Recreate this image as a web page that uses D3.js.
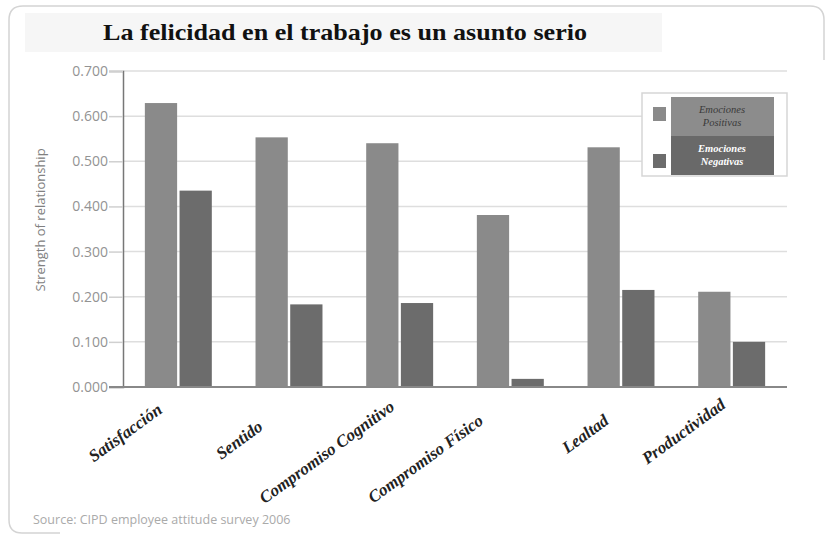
<!DOCTYPE html>
<head>
<meta charset="utf-8">
<title>La felicidad en el trabajo</title>
<script src="https://cdn.jsdelivr.net/npm/d3@7"></script>
<style>
body { margin: 0; background: #fff; }
</style>
</head>
<body>
<script>
// data
var categories = ["Satisfacción", "Sentido", "Compromiso Cognitivo", "Compromiso Físico", "Lealtad", "Productividad"];
var series = ["Emociones Positivas", "Emociones Negativas"];
var positivas = [0.629, 0.553, 0.540, 0.381, 0.531, 0.211];
var negativas = [0.435, 0.183, 0.186, 0.018, 0.215, 0.100];
var yTicks = [0, 0.1, 0.2, 0.3, 0.4, 0.5, 0.6, 0.7];
// hand-placed label nudges in the original
var labelShift = [-15, -25, -4, -26, -11, -5];
var labelDrop = [25, 42, 22, 36, 36, 20];

var width = 827, height = 537;
var colors = ["#8a8a8a", "#6c6c6c"];

var svg = d3.select("body").append("svg")
  .attr("width", width)
  .attr("height", height);

// outer frame (right and bottom edges fade out)
svg.append("path")
  .attr("d", "M60,533 H22 Q9,533 9,520 V20 Q9,6 23,6 H810 Q824,6 824,20 V60")
  .attr("fill", "none")
  .attr("stroke", "#d4d4d4")
  .attr("stroke-width", 1.5);

// title
svg.append("rect")
  .attr("x", 25).attr("y", 13).attr("width", 637).attr("height", 39)
  .attr("fill", "#f6f6f6");
svg.append("text")
  .attr("x", 345).attr("y", 40)
  .attr("text-anchor", "middle")
  .attr("font-family", "Liberation Serif, serif")
  .attr("font-weight", "bold")
  .attr("font-size", 24)
  .attr("textLength", 484)
  .attr("lengthAdjust", "spacingAndGlyphs")
  .attr("fill", "#111")
  .text("La felicidad en el trabajo es un asunto serio");

var pLeft = 123, pRight = 787, pTop = 71, pBottom = 387;

var y = d3.scaleLinear().domain([0, 0.7]).range([pBottom, pTop]);
var x0 = d3.scaleBand().domain(categories).range([pLeft, pRight])
  .paddingInner(0.395).paddingOuter(0.1975);
var x1 = d3.scaleBand().domain(series).range([0, x0.bandwidth()]).paddingInner(0.07);

// gridlines
svg.append("g")
  .selectAll("line")
  .data(yTicks.filter(function(d) { return d > 0; }))
  .enter().append("line")
  .attr("x1", pLeft).attr("x2", pRight)
  .attr("y1", function(d) { return y(d); })
  .attr("y2", function(d) { return y(d); })
  .attr("stroke", "#dedede")
  .attr("stroke-width", 1.5);

// y axis
var yAxis = d3.axisLeft(y).tickValues(yTicks).tickSize(14).tickPadding(1)
  .tickFormat(d3.format(".3f"));
var gy = svg.append("g").attr("transform", "translate(" + pLeft + ",0)").call(yAxis);
gy.select(".domain").attr("stroke", "#777").attr("stroke-width", 1.5);
gy.selectAll(".tick line").attr("stroke", "#d0d0d0").attr("stroke-width", 1.5);
gy.selectAll(".tick text")
  .attr("font-family", "Open Sans, sans-serif")
  .attr("font-size", 14)
  .attr("fill", "#939393");

svg.append("text")
  .attr("transform", "translate(45,220) rotate(-90)")
  .attr("text-anchor", "middle")
  .attr("font-family", "Open Sans, sans-serif")
  .attr("font-size", 13)
  .attr("fill", "#808080")
  .text("Strength of relationship");

// bars
var rows = categories.map(function(c, i) { return {cat: c, vals: [positivas[i], negativas[i]]}; });
var groups = svg.append("g").selectAll("g")
  .data(rows).enter().append("g")
  .attr("transform", function(d) { return "translate(" + x0(d.cat) + ",0)"; });
groups.selectAll("rect")
  .data(function(d) { return d.vals.map(function(v, j) { return {s: series[j], v: v, j: j}; }); })
  .enter().append("rect")
  .attr("x", function(d) { return x1(d.s); })
  .attr("width", x1.bandwidth())
  .attr("y", function(d) { return y(d.v); })
  .attr("height", function(d) { return y(0) - y(d.v); })
  .attr("fill", function(d) { return colors[d.j]; });

// x baseline
svg.append("line")
  .attr("x1", pLeft - 14).attr("x2", pRight)
  .attr("y1", pBottom).attr("y2", pBottom)
  .attr("stroke", "#888").attr("stroke-width", 2);

// category labels
svg.append("g").selectAll("text")
  .data(categories).enter().append("text")
  .attr("transform", function(d, i) {
    var cx = x0(d) + x0.bandwidth() / 2 + labelShift[i];
    return "translate(" + cx + "," + (pBottom + labelDrop[i]) + ") rotate(-36)";
  })
  .attr("text-anchor", "end")
  .attr("font-family", "Liberation Serif, serif")
  .attr("font-style", "italic")
  .attr("font-weight", "bold")
  .attr("font-size", 17)
  .attr("fill", "#222")
  .text(function(d) { return d; });

// legend
var lg = svg.append("g");
lg.append("rect")
  .attr("x", 642).attr("y", 93).attr("width", 145).attr("height", 83)
  .attr("fill", "#fff").attr("stroke", "#d6d6d6").attr("stroke-width", 1.5);
var words = [["Emociones", "Positivas"], ["Emociones", "Negativas"]];
series.forEach(function(s, j) {
  lg.append("rect")
    .attr("x", 653).attr("y", 107 + j * 47).attr("width", 13).attr("height", 14)
    .attr("fill", colors[j]);
  lg.append("rect")
    .attr("x", 671).attr("y", 97 + j * 39).attr("width", 103).attr("height", 39)
    .attr("fill", j === 0 ? "#8c8c8c" : "#696969");
  var t = lg.append("text")
    .attr("x", 722).attr("y", 113 + j * 39)
    .attr("text-anchor", "middle")
    .attr("font-family", "Liberation Serif, serif")
    .attr("font-style", "italic")
    .attr("font-weight", j === 0 ? "normal" : "bold")
    .attr("font-size", 10.5)
    .attr("fill", j === 0 ? "#3a3a3a" : "#fff");
  t.append("tspan").attr("x", 722).text(words[j][0]);
  t.append("tspan").attr("x", 722).attr("dy", 13).text(words[j][1]);
});

// source
svg.append("text")
  .attr("x", 33).attr("y", 524)
  .attr("font-family", "Open Sans, sans-serif")
  .attr("font-size", 12.5)
  .attr("fill", "#aaa")
  .text("Source: CIPD employee attitude survey 2006");
</script>
</body>
